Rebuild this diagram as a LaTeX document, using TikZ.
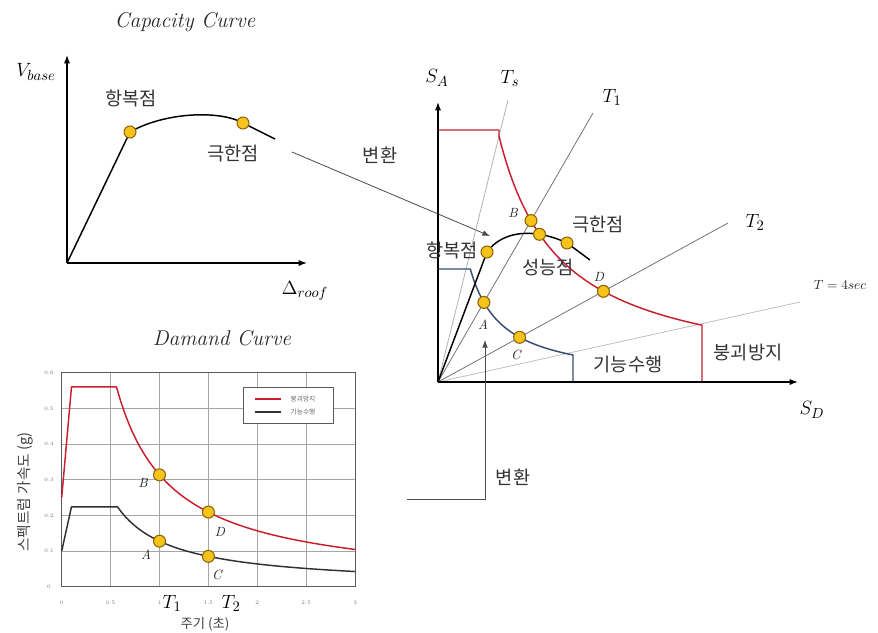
\documentclass[tikz,border=0pt]{standalone}
\usepackage{fontspec}
\newfontfamily\kr{Noto Sans CJK KR}
\usetikzlibrary{arrows.meta}
\definecolor{cred}{RGB}{200,30,45}
\definecolor{cblue}{RGB}{55,75,115}
\definecolor{cdark}{RGB}{45,50,55}
\definecolor{cgrid}{RGB}{165,165,165}
\definecolor{ptfill}{RGB}{245,195,25}
\definecolor{ptedge}{RGB}{140,100,10}

\begin{document}
\begin{tikzpicture}[x=0.75pt,y=-0.75pt,
  kor/.style={font=\kr\fontsize{14}{16}\selectfont,text=black!80},
  ttl/.style={font=\fontsize{16}{18}\selectfont\itshape,text=black!85},
  mlab/.style={font=\fontsize{15}{17}\selectfont},
  ltr/.style={font=\fontsize{10}{12}\selectfont\itshape,text=black!85},
  tick/.style={font=\fontsize{4}{5}\selectfont,text=black!55},
  pt/.style={circle,draw=ptedge,fill=ptfill,line width=0.8pt,inner sep=0pt,minimum size=9pt},
  axis/.style={-{Latex[length=2.2mm]},line width=1.1pt},
  curve/.style={line width=1.1pt,line join=round},
  tline/.style={black!55,line width=0.6pt},
  grid/.style={cgrid,line width=0.5pt},
  conv/.style={-{Latex[length=2mm]},black!70,line width=0.6pt}]
\useasboundingbox (0,0) rectangle (878,632);
% capacity curve
\node[ttl] (captl) at (185,22) {Capacity Curve};
\coordinate (c0) at (67,263);
\coordinate (cyax) at (67,55);
\coordinate (cxax) at (307,263);
\draw[curve] (c0) -- (130,132) .. controls (165,112) and (220,110) .. (243,123) -- (275,139);
\draw[axis] (c0) -- (cyax);
\draw[axis] (c0) -- (cxax);
\node[mlab] (vb) at (36,72) {$V_{base}$};
\node[mlab] (dr) at (305,291) {$\Delta_{roof}$};
\node[pt] (cyld) at (130,132) {};
\node[pt] (cult) at (243,123) {};
\node[kor] (cyldl) at (131,98) {항복점};
\node[kor] (cultl) at (233,154) {극한점};
% first conversion
\coordinate (cv1a) at (292,152);
\coordinate (cv1b) at (490,236);
\draw[conv] (cv1a) -- (cv1b);
\node[kor] (cv1l) at (380,155) {변환};
% ADRS
\coordinate (O) at (438,382);
\coordinate (say) at (438,102);
\coordinate (sdx) at (798,382);
\coordinate (ts) at (508,100);
\coordinate (t1) at (593,113);
\coordinate (t2) at (728,223);
\coordinate (t4) at (800,302);
\draw[tline,black!30] (O) -- (ts);
\draw[tline] (O) -- (t1);
\draw[tline] (O) -- (t2);
\draw[tline,black!25] (O) -- (t4);
\draw[cred,curve] (438,130) -- (499,130) -- plot[domain=499:702,samples=80] (\x,{382-15000/(\x-438)}) -- (702,382);
\draw[cblue,curve] (438,269) -- (470.3,269) -- plot[domain=470.3:573,samples=60] (\x,{382-3650/(\x-438)}) -- (573,382);
\draw[curve] (O) -- (487,252) .. controls (503,230) and (535,228) .. (567,243) -- (590,260);
\draw[axis] (O) -- (say);
\draw[axis] (O) -- (sdx);
\node[mlab] (sal) at (437,78) {$S_A$};
\node[mlab] (tsl) at (510,78) {$T_s$};
\node[mlab] (t1l) at (612,97) {$T_1$};
\node[mlab] (t2l) at (755,222) {$T_2$};
\node[ltr] (t4l) at (840,285) {$T = 4sec$};
\node[mlab] (sdl) at (812,410) {$S_D$};
\node[pt] (pB) at (531,220.6) {};
\node[pt] (pP) at (539.5,234.3) {};
\node[pt] (pU) at (567,243) {};
\node[pt] (pY) at (487,252) {};
\node[pt] (pA) at (483.9,302.4) {};
\node[pt] (pC) at (519.6,337.3) {};
\node[pt] (pD) at (603.4,291.3) {};
\node[ltr] (pBl) at (513,213) {B};
\node[ltr] (pDl) at (599,277) {D};
\node[ltr] (pAl) at (483,325) {A};
\node[ltr] (pCl) at (516,355) {C};
\node[kor] (pUl) at (598,225) {극한점};
\node[kor] (pYl) at (452,250) {항복점};
\node[kor] (pPl) at (548,267) {성능점};
\node[kor] (iol) at (628,365) {기능수행};
\node[kor] (cpl) at (748,353) {붕괴방지};
% second conversion
\coordinate (cv2a) at (407,499);
\coordinate (cv2b) at (485,499);
\coordinate (cv2c) at (485,340);
\draw[conv] (cv2a) -- (cv2b) -- (cv2c);
\node[kor] (cv2l) at (513,477) {변환};
% demand curve
\node[ttl] (dmtl) at (222,338) {Damand Curve};
\begin{scope}[shift={(61.7,586.7)},xscale=97.8,yscale=-356.7]
\foreach \t in {0.5,1,...,2.5} \draw[grid] (\t,0) -- (\t,0.6);
\foreach \s in {0.1,0.2,0.3,0.4,0.5} \draw[grid] (0,\s) -- (3,\s);
\draw[cdark!80,line width=0.8pt] (0,0) rectangle (3,0.6);
\foreach \t/\l in {0/0,0.5/0.5,1/1,1.5/1.5,2/2,2.5/2.5,3/3} \node[tick] at (\t,-0.045) {\l};
\foreach \s in {0,0.1,0.2,0.3,0.4,0.5,0.6} \node[tick] at (-0.13,\s) {\s};
\draw[cred,curve] (0,0.25) -- (0.1,0.56) -- (0.56,0.56) -- plot[domain=0.56:3,samples=60] (\x,{0.3136/\x});
\draw[cdark,curve] (0,0.1) -- (0.1,0.224) -- (0.57,0.224) -- plot[domain=0.57:3,samples=60] (\x,{0.1277/\x});
\node[pt] (dB) at (1,0.3136) {};
\node[pt] (dD) at (1.5,0.2091) {};
\node[pt] (dA) at (1,0.1277) {};
\node[pt] (dC) at (1.5,0.0851) {};
\end{scope}
\node[ltr] (dBl) at (143,483) {B};
\node[ltr] (dDl) at (220,532) {D};
\node[ltr] (dAl) at (146,555) {A};
\node[ltr] (dCl) at (217,575) {C};
\node[mlab] (dT1) at (172,603) {$T_1$};
\node[mlab] (dT2) at (231,603) {$T_2$};
\node[font=\kr\fontsize{10}{11}\selectfont,text=black!75] (dxl) at (205,624) {주기 (초)};
\node[font=\kr\fontsize{11}{12}\selectfont,text=black!75,rotate=90] (dyl) at (25,492) {스펙트럼 가속도 (g)};
% legend
\draw[cdark!80,fill=white,line width=0.6pt] (243,387) rectangle (333,423);
\draw[cred,line width=1pt] (255,399) -- (281,399);
\draw[cdark,line width=1pt] (255,412) -- (281,412);
\node[font=\kr\fontsize{5}{6}\selectfont,text=black!60] (lg1) at (303,399) {붕괴방지};
\node[font=\kr\fontsize{5}{6}\selectfont,text=black!60] (lg2) at (303,412) {기능수행};
\end{tikzpicture}
\end{document}
